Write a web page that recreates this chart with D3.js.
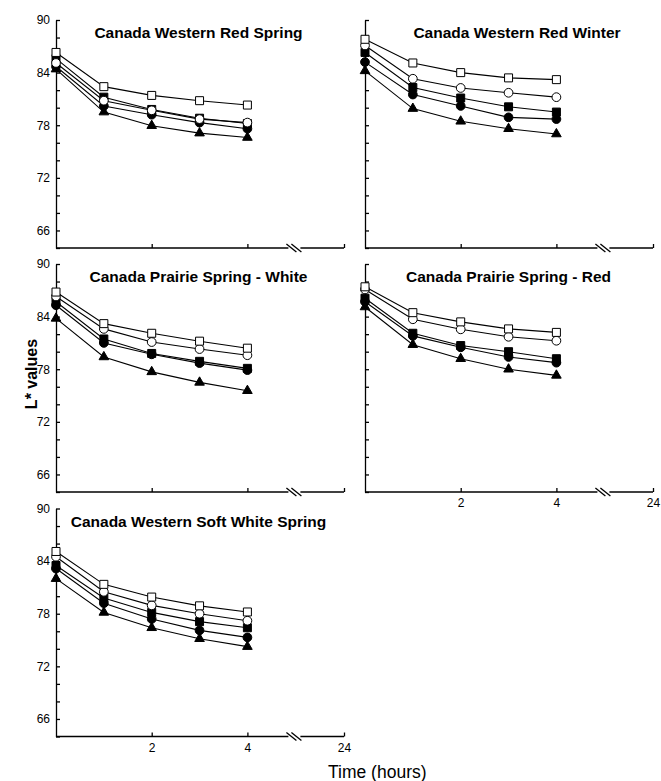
<!DOCTYPE html>
<html>
<head>
<meta charset="utf-8">
<script src="https://cdn.jsdelivr.net/npm/d3@7"></script>
<style>
  body { margin: 0; background: #fff; }
  svg { display: block; font-family: "Liberation Sans", Arial, sans-serif; }
  .axis path, .axis line { stroke: #000; stroke-width: 1.3; }
  .axis text { font-size: 12px; fill: #000; }
</style>
</head>
<body>
<script>

/* Data (L* values) */

var times = [0, 1, 2, 3, 4];
var yTicks = [64, 66, 68, 70, 72, 74, 76, 78, 80, 82, 84, 86, 88, 90];
var xTicks = [2, 4, 24];

// marker order: open square, open circle, filled square, filled circle, filled triangle
var markers = ["openSquare", "openCircle", "filledSquare", "filledCircle", "filledTriangle"];

var cwrs = [
  [86.3, 82.4, 81.4, 80.8, 80.3],
  [85.1, 80.8, 79.7, 78.7, 78.3],
  [85.6, 81.2, 79.8, 78.8, 78.2],
  [84.7, 80.2, 79.2, 78.3, 77.6],
  [84.4, 79.5, 77.95, 77.1, 76.6]
];

var cwrw = [
  [87.8, 85.1, 84.0, 83.4, 83.2],
  [87.1, 83.3, 82.25, 81.7, 81.2],
  [86.3, 82.3, 81.1, 80.1, 79.5],
  [85.2, 81.5, 80.2, 78.9, 78.7],
  [84.2, 79.9, 78.45, 77.6, 77.0]
];

var cpsWhite = [
  [86.8, 83.2, 82.1, 81.2, 80.4],
  [86.3, 82.6, 81.1, 80.3, 79.6],
  [85.7, 81.45, 79.8, 78.9, 78.1],
  [85.3, 81.0, 79.7, 78.7, 77.9],
  [83.8, 79.4, 77.7, 76.5, 75.55]
];

var cpsRed = [
  [87.4, 84.45, 83.4, 82.6, 82.2],
  [87.1, 83.7, 82.55, 81.7, 81.25],
  [86.1, 82.1, 80.7, 80.0, 79.2],
  [85.7, 81.8, 80.5, 79.4, 78.75],
  [85.1, 80.8, 79.2, 78.0, 77.3]
];

var cwsws = [
  [85.1, 81.35, 79.9, 78.9, 78.2],
  [84.5, 80.5, 78.95, 78.0, 77.2],
  [83.5, 79.8, 78.15, 77.1, 76.4],
  [83.15, 79.2, 77.4, 76.1, 75.3],
  [82.0, 78.15, 76.4, 75.15, 74.25]
];

var titles = [
  "Canada Western Red Spring",
  "Canada Western Red Winter",
  "Canada Prairie Spring - White",
  "Canada Prairie Spring - Red",
  "Canada Western Soft White Spring"
];
var panelData = [cwrs, cwrw, cpsWhite, cpsRed, cwsws];

/* Layout */

var width = 661, height = 781;
var panelW = 288, panelH = 228;
var colLeft = [56, 365];
var rowTop = [20, 264, 508.5];

var panels = [
  { col: 0, row: 0, yLabels: true,  xLabels: false, titleX: 142.5 },
  { col: 1, row: 0, yLabels: false, xLabels: false, titleX: 152 },
  { col: 0, row: 1, yLabels: true,  xLabels: false, titleX: 142.5 },
  { col: 1, row: 1, yLabels: false, xLabels: true,  titleX: 143.5 },
  { col: 0, row: 2, yLabels: true,  xLabels: true,  titleX: 142.5 }
];

var svg = d3.select("body").append("svg")
  .attr("width", width)
  .attr("height", height);

// time axis: 0-4 h linear, then a break and 24 h
var x = d3.scaleLinear().domain([0, 4, 24]).range([0, 191.4, panelW]);
var y = d3.scaleLinear().domain([64, 90]).range([panelH, 0]);

var line = d3.line()
  .x(function(d, i) { return x(times[i]); })
  .y(function(d) { return y(d); });

function drawMarker(g, type, cx, cy) {
  var filled = type.indexOf("filled") === 0;
  var shape;
  if (type.indexOf("Square") > 0) shape = d3.symbol(d3.symbolSquare, 64);
  else if (type.indexOf("Circle") > 0) shape = d3.symbol(d3.symbolCircle, 60);
  else shape = d3.symbol(d3.symbolTriangle, 40);
  g.append("path")
    .attr("d", shape)
    .attr("transform", "translate(" + cx + "," + cy + ")")
    .attr("fill", filled ? "#000" : "#fff")
    .attr("stroke", "#000")
    .attr("stroke-width", 1);
}

panels.forEach(function(p, pi) {
  var g = svg.append("g")
    .attr("transform", "translate(" + colLeft[p.col] + "," + rowTop[p.row] + ")");

  // y axis (ticks point inward)
  g.append("g")
    .attr("class", "axis")
    .call(d3.axisLeft(y)
      .tickValues(yTicks)
      .tickSizeInner(-4)
      .tickSizeOuter(0)
      .tickPadding(6)
      .tickFormat(function(d) { return p.yLabels && d % 6 === 0 ? d : ""; }));

  // x axis without its domain line, the line is drawn with a break below
  var xa = g.append("g")
    .attr("class", "axis")
    .attr("transform", "translate(0," + panelH + ")")
    .call(d3.axisBottom(x)
      .tickValues(xTicks)
      .tickSizeInner(-4)
      .tickSizeOuter(0)
      .tickPadding(6.5)
      .tickFormat(function(d) { return p.xLabels ? d : ""; }));
  xa.select(".domain").remove();

  var brk = x(4) + 46;
  xa.append("line").attr("x1", 0).attr("x2", brk - 5).attr("y1", 0).attr("y2", 0);
  xa.append("line").attr("x1", brk + 7).attr("x2", x(24)).attr("y1", 0).attr("y2", 0);
  [brk - 2, brk + 3].forEach(function(bx) {
    xa.append("line")
      .attr("x1", bx - 5).attr("y1", -4)
      .attr("x2", bx + 5).attr("y2", 4)
      .attr("stroke-width", 1);
  });

  // title
  g.append("text")
    .attr("x", p.titleX)
    .attr("y", 18)
    .attr("text-anchor", "middle")
    .attr("font-weight", "bold")
    .attr("font-size", "15.5px")
    .text(titles[pi]);

  // series lines, then markers (triangles at the back)
  var series = panelData[pi];
  for (var s = series.length - 1; s >= 0; s--) {
    g.append("path")
      .datum(series[s])
      .attr("fill", "none")
      .attr("stroke", "#000")
      .attr("stroke-width", 1.1)
      .attr("d", line);
  }
  for (var s2 = series.length - 1; s2 >= 0; s2--) {
    series[s2].forEach(function(v, i) {
      drawMarker(g, markers[s2], x(times[i]), y(v));
    });
  }
});

// axis titles
svg.append("text")
  .attr("transform", "translate(37,374) rotate(-90)")
  .attr("text-anchor", "middle")
  .attr("font-weight", "bold")
  .attr("font-size", "16px")
  .text("L* values");

svg.append("text")
  .attr("x", 328)
  .attr("y", 778)
  .attr("font-size", "17.5px")
  .text("Time (hours)");

</script>
</body>
</html>
